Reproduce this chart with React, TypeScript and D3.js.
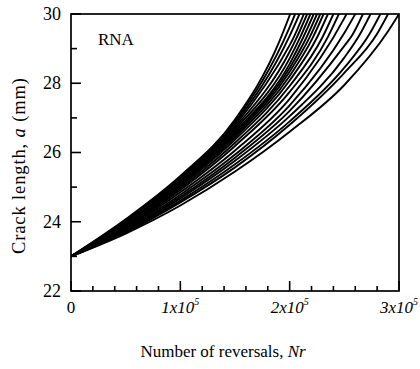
import React from 'react';
import * as d3 from 'd3';

// ---- data ----
const X_MAJOR = [0, 100000, 200000, 300000];
const X_MAJOR_LABEL = ['0', '1', '2', '3'];
const Y_MAJOR = [22, 24, 26, 28, 30];
const Y_MINOR = [23, 25, 27, 29];
const GRID_N = [0, 50000, 100000, 150000, 200000, 250000];
// N at which each curve reaches a = 30 mm
const END_N = [200500, 205000, 209000, 213000, 216000, 219000, 222000, 225000, 228000, 231000,
  235000, 240000, 245000, 252000, 260000, 267000, 274000, 283000, 290000, 300000];
const END_A = 30;
// crack length at GRID_N for each curve
const A_AT_GRID = [
  [23, 24.07, 25.32, 26.95],
  [23, 24.05, 25.3, 26.9, 29.62],
  [23, 24.03, 25.27, 26.84, 29.37],
  [23, 24.0, 25.24, 26.78, 29.1],
  [23, 23.98, 25.21, 26.72, 28.91],
  [23, 23.96, 25.18, 26.66, 28.72],
  [23, 23.94, 25.15, 26.6, 28.56],
  [23, 23.92, 25.12, 26.55, 28.44],
  [23, 23.9, 25.09, 26.5, 28.33],
  [23, 23.89, 25.06, 26.44, 28.21],
  [23, 23.87, 25.02, 26.37, 28.08],
  [23, 23.85, 24.97, 26.28, 27.92],
  [23, 23.83, 24.92, 26.19, 27.75],
  [23, 23.8, 24.85, 26.06, 27.55, 29.88],
  [23, 23.77, 24.78, 25.94, 27.36, 29.45],
  [23, 23.75, 24.72, 25.85, 27.2, 29.08],
  [23, 23.73, 24.67, 25.76, 27.05, 28.74],
  [23, 23.71, 24.61, 25.66, 26.9, 28.45],
  [23, 23.69, 24.56, 25.57, 26.8, 28.3],
  [23, 23.66, 24.47, 25.45, 26.6, 27.95],
];
// crack length 10,000 reversals before each curve's end (null where a grid value is already there)
const NEAR_END_A: (number | null)[] = [29.2, null, null, 29.28, 29.29, 29.29, 29.3, 29.3, 29.31, 29.31,
  29.32, 29.33, 29.34, null, null, 29.38, 29.4, 29.42, 29.43, 29.5];
const NEAR_END_GAP = 10000;

const W = 420;
const H = 369;
const L = 71, R = 399, T = 14, B = 291;
const FONT = '"Liberation Serif", "Times New Roman", serif';

export default function App() {
  const x = d3.scaleLinear().domain([0, 300000]).range([L, R]);
  const y = d3.scaleLinear().domain([22, 30]).range([B, T]);
  const line = d3.line<[number, number]>()
    .x(d => x(d[0]))
    .y(d => y(d[1]))
    .curve(d3.curveMonotoneX);

  const xMinor = d3.range(20000, 300000, 20000).filter(v => v % 100000 !== 0);

  const curves = A_AT_GRID.map((vals, k) => {
    const pts: [number, number][] = vals.map((a, i) => [GRID_N[i], a]);
    const ne = NEAR_END_A[k];
    if (ne !== null) pts.push([END_N[k] - NEAR_END_GAP, ne]);
    pts.push([END_N[k], END_A]);
    pts.sort((p, q) => p[0] - q[0]);
    return line(pts) || '';
  });

  return (
    <svg width={W} height={H} style={{ position: 'absolute', left: 0, top: 0, background: '#fff' }}
      fontFamily={FONT}>
      <defs>
        <clipPath id="plot"><rect x={L} y={T} width={R - L} height={B - T} /></clipPath>
      </defs>
      <g clipPath="url(#plot)">
        {curves.map((d, i) => (
          <path key={i} d={d} fill="none" stroke="#000" strokeWidth={1.9} />
        ))}
      </g>
      {/* frame */}
      <rect x={L} y={T} width={R - L} height={B - T} fill="none" stroke="#000" strokeWidth={1.7} />
      {/* y ticks */}
      {Y_MAJOR.map(v => (
        <g key={'ym' + v}>
          <line x1={L} x2={L + 10} y1={y(v)} y2={y(v)} stroke="#000" strokeWidth={1.6} />
          <text x={L - 10} y={y(v)} dy="0.33em" textAnchor="end" fontSize={18}>{v}</text>
        </g>
      ))}
      {Y_MINOR.map(v => (
        <line key={'yn' + v} x1={L} x2={L + 6} y1={y(v)} y2={y(v)} stroke="#000" strokeWidth={1.6} />
      ))}
      {/* x ticks */}
      {X_MAJOR.map((v, i) => (
        <g key={'xm' + v}>
          <line x1={x(v)} x2={x(v)} y1={B} y2={B - 10} stroke="#000" strokeWidth={1.6} />
          {i === 0 ? (
            <text x={x(v)} y={313} textAnchor="middle" fontSize={17}>0</text>
          ) : (
            <text x={x(v)} y={313} textAnchor="middle" fontSize={17} fontStyle="italic">
              {X_MAJOR_LABEL[i]}x10<tspan fontSize={10} dy={-8}>5</tspan>
            </text>
          )}
        </g>
      ))}
      {xMinor.map(v => (
        <line key={'xn' + v} x1={x(v)} x2={x(v)} y1={B} y2={B - 5} stroke="#000" strokeWidth={1.6} />
      ))}
      <text x={98} y={45} fontSize={17}>RNA</text>
      <text x={223} y={357} textAnchor="middle" fontSize={17}>
        Number of reversals, <tspan fontStyle="italic">Nr</tspan>
      </text>
      <text transform={`translate(25,166) rotate(-90)`} textAnchor="middle" fontSize={18.5}
        textLength={176} lengthAdjust="spacing">
        Crack length, <tspan fontStyle="italic">a</tspan> (mm)
      </text>
    </svg>
  );
}
